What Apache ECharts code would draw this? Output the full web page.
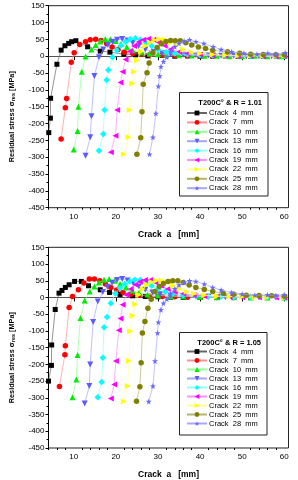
<!DOCTYPE html>
<html><head><meta charset="utf-8">
<script src="https://cdn.jsdelivr.net/npm/echarts@6/dist/echarts.min.js"></script>
<style>html,body{margin:0;padding:0;background:#fff}#c{width:298px;height:480px}</style>
</head><body><div id="c"></div><script>
// ---------- data ----------
const crackNames = ['Crack  4  mm','Crack  7  mm','Crack  10  mm','Crack  13  mm','Crack  16  mm','Crack  19  mm','Crack  22  mm','Crack  25  mm','Crack  28  mm'];
const legendTitles = ['T200C° & R = 1.01','T200C° & R = 1.05'];
const xTickLabels = [10,20,30,40,50,60];
const xMinorTicks = [4,6,8,12,14,16,18,22,24,26,28,32,34,36,38,42,44,46,48,52,54,56,58];

// Chart A : R = 1.01
const a4x  = [4.07,4.45,4.5,6.0,7.0,7.9,8.8,9.5,10.5,13.3,16.3,18.6,21.9,24.7,27.6,31,34,37,40,43,46,49,52,55,58,60];
const a4y  = [-227,-184,-125,-24,18,31,38,43,46,28,15,12,6,4,1,2,0,1,0,0,1,0,0,0,0,0];
const a7x  = [7.0,8.0,8.3,9.4,10.1,11.4,12.8,13.9,15.2,16.5,17.8,19.1,20.5,22,24,26,28,31,34,37,40,43,46,49,52,55,58,60];
const a7y  = [-246,-153,-126,-18,10,35,43,49,50,47,38,27,20,12,8,6,4,3,2,1,1,0,1,0,0,0,0,1];
const a10x = [10.0,10.9,11.1,11.9,12.8,14.2,15.2,16.3,17.5,18.7,19.9,21.2,22.6,24,26,28,30,32,35,38,41,44,47,50,53,56,59,60];
const a10y = [-277,-222,-150,-46,-1,20,33,44,51,50,45,36,27,18,12,8,6,4,3,2,1,1,0,0,1,0,0,1];
const a13x = [12.8,13.9,14.2,14.9,16.0,17.0,18.1,19.2,20.3,21.5,22.8,24,25.4,27,29,31,33,36,39,42,45,48,51,54,57,60];
const a13y = [-296,-241,-178,-59,-3,20,33,43,49,51,47,40,30,20,13,9,6,4,3,2,1,1,0,0,0,1];
const a16x = [16.0,17.0,17.3,17.8,18.2,19.2,20.2,21.2,22.3,23.4,24.6,25.8,27.1,28.5,30,32,34,37,40,43,46,49,52,55,58,60];
const a16y = [-281,-231,-160,-71,-41,-3,18,32,43,50,53,49,41,30,20,12,8,5,3,2,1,1,0,0,0,1];
const a19x = [18.8,19.9,20.3,21.1,21.6,22.3,23.3,24.3,25.4,26.5,27.7,28.9,30.2,31.6,33,35,37,40,43,46,49,52,55,58,60];
const a19y = [-285,-236,-160,-78,-46,-10,15,30,42,49,52,49,41,31,21,13,8,5,3,2,1,1,0,0,1];
const a22x = [21.9,23.0,23.3,23.9,24.3,25.0,26.0,27.0,28.1,29.2,30.4,31.6,32.9,34.3,36,38,40,43,46,49,52,55,58,60];
const a22y = [-291,-241,-160,-81,-46,-12,14,30,41,48,51,49,41,31,20,12,8,5,3,2,1,1,0,1];
const a25x = [25.0,25.9,26.2,26.5,27.4,27.9,28.8,29.8,30.8,31.9,33,34.1,35.3,36.6,38,39.6,41.3,43,46.5,49.4,52,55,58,60];
const a25y = [-291,-242,-165,-83,-49,-20,10,26,37,44,47,46,46,40,33,27,23,18,13,9,6,5,4,4];
const a28x = [28.0,28.8,29.5,30.1,30.4,30.7,31.3,32.1,33,34,35,36.2,37.5,39,40.9,43.1,45,47.5,50.4,53.5,56.1,58,60.2];
const a28y = [-291,-241,-170,-89,-59,-31,-16,-3,15,28,38,45,49,43,38,28,20,13,9,6,9,6,10];

// Chart B : R = 1.05
const b4x  = [4.0,4.7,4.75,5.6,6.5,7.2,8.0,8.9,10.2,11.8,13.5,16.3,18.5,21,24,27,30,33,36,40,44,48,52,56,60];
const b4y  = [-250,-203,-142,-36,13,21,30,38,48,48,35,23,15,9,5,3,2,1,0,0,0,0,0,0,0];
const b7x  = [6.6,7.9,8.0,8.9,9.7,11.1,12.4,13.7,14.9,16.2,17.5,18.8,20.2,21.7,23.5,25.5,28,31,34,37,40,44,48,52,56,60];
const b7y  = [-266,-171,-144,-30,3,23,43,55,55,50,40,30,22,15,10,7,4,3,2,1,1,0,0,0,0,0];
const b10x = [9.7,10.6,10.9,11.6,12.6,13.8,14.9,16,17.2,18.4,19.7,21,22.4,23.9,25.5,27.5,30,33,36,40,44,48,52,56,60];
const b10y = [-298,-245,-172,-61,-9,18,33,45,53,55,50,40,30,21,14,9,6,4,3,2,1,1,0,0,0];
const b13x = [12.6,13.7,13.9,14.6,15.7,16.9,18,19.1,20.3,21.5,22.8,24.1,25.5,27,28.7,30.5,33,36,39,42,46,50,54,58,60];
const b13y = [-317,-265,-200,-73,-12,16,32,44,52,55,51,43,33,23,15,10,6,4,3,2,1,1,0,0,0];
const b16x = [15.7,16.6,16.9,17.2,17.9,18.8,19.9,21,22.1,23.3,24.5,25.8,27.1,28.5,30,31.7,33.5,36,39,42,45,48,52,56,60];
const b16y = [-298,-253,-180,-89,-58,-17,12,28,40,48,53,52,45,35,25,17,11,7,4,3,2,1,1,0,0];
const b19x = [18.8,19.6,20.0,20.7,21.1,21.6,22.5,23.5,24.6,25.7,26.9,28.1,29.4,30.8,32.3,34,36,38.5,41,44,47,50,54,58,60];
const b19y = [-302,-260,-190,-98,-63,-22,8,25,38,47,52,52,45,35,25,17,11,7,4,3,2,1,1,0,0];
const b22x = [21.9,22.8,23.1,23.4,24.0,24.6,25.4,26.4,27.4,28.5,29.7,30.9,32.2,33.6,35.1,36.8,38.6,41,44,47,50,53,56,60];
const b22y = [-311,-265,-190,-101,-55,-20,8,25,38,46,51,51,45,35,25,17,11,7,4,3,2,1,1,0];
const b25x = [24.9,25.7,26.0,26.3,26.9,27.6,28.4,29.3,30.3,31.3,32.4,33.5,34.7,36,37.4,39,41,43,45.5,48,51,54,57,60];
const b25y = [-310,-267,-195,-106,-72,-32,-5,18,33,42,48,50,50,45,37,30,24,18,13,10,7,6,5,4];
const b28x = [27.8,28.8,29.3,29.9,30.1,30.7,31.3,32.1,33,34,35,36.2,37.5,39,41,43,45,47.5,50,53,56,58,60];
const b28y = [-311,-265,-190,-106,-74,-37,-17,-5,12,26,37,45,50,48,40,30,22,15,10,7,8,6,8];

const chartX = [[a4x,a7x,a10x,a13x,a16x,a19x,a22x,a25x,a28x],[b4x,b7x,b10x,b13x,b16x,b19x,b22x,b25x,b28x]];
const chartY = [[a4y,a7y,a10y,a13y,a16y,a19y,a22y,a25y,a28y],[b4y,b7y,b10y,b13y,b16y,b19y,b22y,b25y,b28y]];

// ---------- styles ----------
const FONT = 'Liberation Sans, Arial, sans-serif';
const starPath = 'path://M0,-10 L2.35,-3.24 L9.51,-3.09 L3.8,1.24 L5.88,8.09 L0,4 L-5.88,8.09 L-3.8,1.24 L-9.51,-3.09 L-2.35,-3.24 Z';
const styles = [
  {c:'#000000', l:'#666666', sym:'rect', size:5, rot:0},
  {c:'#ff0000', l:'#ff9090', sym:'circle', size:5.5, rot:0},
  {c:'#00ee00', l:'#90ff90', sym:'triangle', size:6, rot:0},
  {c:'#5b5bff', l:'#a5a5ff', sym:'triangle', size:6, rot:180},
  {c:'#00ffff', l:'#90ffff', sym:'diamond', size:6.5, rot:0},
  {c:'#ff00ff', l:'#ff90ff', sym:'triangle', size:6, rot:90},
  {c:'#ffff00', l:'#ffff90', sym:'triangle', size:6, rot:-90},
  {c:'#808000', l:'#b5b570', sym:'circle', size:5.5, rot:0},
  {c:'#6a6aff', l:'#a8a8ff', sym:starPath, size:6, rot:0}
];

const gridTops = [5.7, 247.3];
const gridH = 202;
const grids = [], xAxes = [], yAxes = [], series = [], legends = [], graphics = [];
const boxes = [{x:179.5,y:92.5,w:88.5,h:103.5,ty:103},{x:179.5,y:332.5,w:87.5,h:102.5,ty:342.5}];
const legTops = [109, 347.5];
const legGaps = [1.4, 1.0];

for (let g = 0; g < 2; g++) {
  grids.push({left:42, width:246.5, top:gridTops[g], height:gridH, show:true, borderColor:'#222', borderWidth:1, containLabel:false});
  xAxes.push({
    type:'value', gridIndex:g, min:4, max:61, position:'bottom',
    name:'Crack  a   [mm]', nameLocation:'middle', nameGap:22,
    nameTextStyle:{fontFamily:FONT, fontSize:8.5, fontWeight:'bold', color:'#000'},
    axisLine:{show:true, lineStyle:{color:'#000', width:1}},
    axisTick:{show:true, customValues:xTickLabels, length:4, lineStyle:{color:'#000'}},
    axisLabel:{show:true, customValues:xTickLabels, fontFamily:FONT, fontSize:8, color:'#000', margin:5},
    splitLine:{show:false}
  });
  xAxes.push({
    type:'value', gridIndex:g, min:4, max:61, position:'bottom',
    axisLine:{show:false},
    axisTick:{show:true, customValues:xMinorTicks, length:2, lineStyle:{color:'#000'}},
    axisLabel:{show:false}, splitLine:{show:false}
  });
  yAxes.push({
    type:'value', gridIndex:g, min:-450, max:150, interval:50,
    name:'{a|Residual stress σ}{s|res}{a| [MPa]}', nameLocation:'middle', nameGap:32, nameRotate:90,
    nameTextStyle:{padding:[0,20,0,0], rich:{a:{fontFamily:FONT, fontSize:7.3, fontWeight:'bold', color:'#000'}, s:{fontFamily:FONT, fontSize:5.5, fontWeight:'bold', color:'#000', padding:[4,0,0,0]}}},
    axisLine:{show:true, lineStyle:{color:'#000', width:1}},
    axisTick:{show:true, length:3, lineStyle:{color:'#000'}},
    minorTick:{show:true, splitNumber:2, length:2, lineStyle:{color:'#000'}},
    axisLabel:{fontFamily:FONT, fontSize:8, color:'#000', margin:4},
    splitLine:{show:false}
  });
  for (let i = 0; i < 9; i++) {
    const st = styles[i];
    const xs = chartX[g][i], ys = chartY[g][i];
    const s = {
      type:'line', name:crackNames[i], xAxisIndex:g*2, yAxisIndex:g,
      data: xs.map((x,k)=>[x, ys[k]]),
      symbol:st.sym, symbolSize:st.size, symbolRotate:st.rot, showSymbol:true,
      itemStyle:{color:st.c}, lineStyle:{color:st.l, width:0.7},
      animation:false, z:2+i, clip:false
    };
    if (i === 0) {
      s.markLine = {silent:true, symbol:'none', animation:false, label:{show:false},
        lineStyle:{color:'#555', width:1, type:'solid'}, data:[{yAxis:0}], z:1};
    }
    series.push(s);
  }
  legends.push({
    orient:'vertical', left:186, top:legTops[g], itemWidth:20, itemHeight:6, itemGap:legGaps[g],
    padding:0, z:60, zlevel:0, textStyle:{fontFamily:FONT, fontSize:7.5, color:'#000', padding:[0,0,0,-3]},
    data:crackNames, selectedMode:false
  });
  const b = boxes[g];
  graphics.push({type:'rect', z:20, shape:{x:b.x, y:b.y, width:b.w, height:b.h}, style:{fill:'#fff', stroke:'#222', lineWidth:1}});
  graphics.push({type:'text', z:21, x:b.x+b.w-6, y:b.ty, style:{text:legendTitles[g], fontFamily:FONT, fontSize:7.5, fontWeight:'bold', fill:'#000', textAlign:'right', textVerticalAlign:'middle'}});
}

const chart = echarts.init(document.getElementById('c'), null, {renderer:'canvas'});
chart.setOption({
  animation:false, backgroundColor:'#fff',
  grid:grids, xAxis:xAxes, yAxis:yAxes, series:series, legend:legends,
  graphic:{elements:graphics}
});
</script></body></html>
